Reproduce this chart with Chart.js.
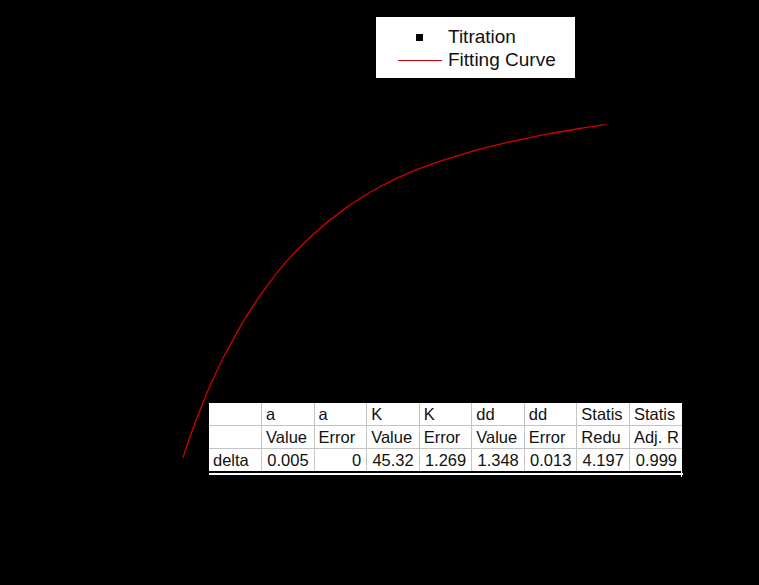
<!DOCTYPE html>
<html>
<head>
<meta charset="utf-8">
<script src="https://cdn.jsdelivr.net/npm/chart.js@4"></script>
<style>
  html, body { margin: 0; padding: 0; background: #000; }
  #wrap { position: relative; width: 759px; height: 585px; background: #000; overflow: hidden; }
  #chart { position: absolute; left: 0; top: 0; }
  #legend {
    position: absolute; left: 376px; top: 17px; width: 199px; height: 61px;
    background: #fff; font-family: "Liberation Sans", Arial, sans-serif; font-size: 19px; color: #111;
  }
  #legend .row { position: absolute; left: 0; height: 22px; line-height: 22px; }
  #legend .mark { position: absolute; }
  #legend .txt { position: absolute; left: 72px; white-space: nowrap; }
  #fitTable {
    position: absolute; left: 209px; top: 403px; width: 473px;
    border-collapse: collapse; background: #fff; table-layout: fixed;
    font-family: "Liberation Sans", Arial, sans-serif; font-size: 16.5px; color: #111;
  }
  #fitTable td {
    border: 1px solid #c4c4c4; padding: 0 4px; height: 22px; line-height: 22px;
    white-space: nowrap; overflow: hidden; text-align: left;
  }
  #fitTable tr:first-child td { border-top: none; }
  #fitTable tr:last-child td { border-bottom: none; }
  #fitTable td:first-child { border-left: none; }
  #fitTable td:last-child { border-right: none; }
  #fitTable td.num { text-align: right; padding-right: 5px; }
  #tableRule { position: absolute; left: 209px; top: 473px; width: 474px; height: 2px; background: #fff; }
  #tableTick { position: absolute; left: 681px; top: 471px; width: 1px; height: 6px; background: #fff; }
</style>
</head>
<body>
<div id="wrap">
  <canvas id="chart" width="759" height="585"></canvas>
  <div id="legend"></div>
  <table id="fitTable"></table>
  <div id="tableRule"></div>
  <div id="tableTick"></div>
</div>
<script>
// fitted curve (x: titrant conc, y: shift)
const titrantConc = [0, 0.00157, 0.00320, 0.00516, 0.00778, 0.01104, 0.01367, 0.01594, 0.02033,
  0.02555, 0.03210, 0.03863, 0.04516, 0.05171, 0.05824, 0.06476, 0.07131, 0.07784, 0.08275];
const deltaFit = [0.011, 0.085, 0.155, 0.232, 0.322, 0.419, 0.488, 0.541, 0.631,
  0.716, 0.801, 0.866, 0.916, 0.953, 0.985, 1.010, 1.032, 1.050, 1.062];

// legend entries
const legendLabels = ['Titration', 'Fitting Curve'];

// fit parameter table
const tableHead1 = ['', 'a', 'a', 'K', 'K', 'dd', 'dd', 'Statis', 'Statis'];
const tableHead2 = ['', 'Value', 'Error', 'Value', 'Error', 'Value', 'Error', 'Redu', 'Adj. R'];
const rowLabels = ['delta'];
const rowValues = [['0.005', '0', '45.32', '1.269', '1.348', '0.013', '4.197', '0.999']];

const curveColor = '#d40000';

// build the table
const table = document.getElementById('fitTable');
function addRow(cells, numeric) {
  const tr = document.createElement('tr');
  cells.forEach((c, i) => {
    const td = document.createElement('td');
    td.textContent = c;
    if (numeric && i > 0) td.className = 'num';
    tr.appendChild(td);
  });
  table.appendChild(tr);
}
addRow(tableHead1, false);
addRow(tableHead2, false);
rowLabels.forEach((lab, i) => addRow([lab].concat(rowValues[i]), true));

// legend box
const legend = document.getElementById('legend');
legendLabels.forEach((lab, i) => {
  const row = document.createElement('div');
  row.className = 'row';
  row.style.top = (9 + i * 23) + 'px';
  row.style.width = '199px';
  const mark = document.createElement('div');
  mark.className = 'mark';
  if (i === 0) {
    mark.style.cssText = 'left:40px;top:8px;width:7px;height:7px;background:#000;';
  } else {
    mark.style.cssText = 'left:22px;top:11px;width:44px;height:1px;background:#c00000;';
  }
  const txt = document.createElement('div');
  txt.className = 'txt';
  txt.textContent = lab;
  row.appendChild(mark);
  row.appendChild(txt);
  legend.appendChild(row);
});

const ctx = document.getElementById('chart').getContext('2d');
new Chart(ctx, {
  type: 'scatter',
  data: {
    datasets: [{
      label: legendLabels[1],
      data: titrantConc.map((x, i) => ({ x: x, y: deltaFit[i] })),
      showLine: true,
      borderColor: curveColor,
      borderWidth: 1.3,
      pointRadius: 0,
      cubicInterpolationMode: 'monotone',
      fill: false,
      clip: false
    }]
  },
  options: {
    responsive: false,
    animation: false,
    layout: { padding: { left: 183, right: 66, top: 81, bottom: 124 } },
    scales: {
      x: { type: 'linear', min: 0, max: 0.1, display: false },
      y: { type: 'linear', min: 0, max: 1.2, display: false }
    },
    plugins: {
      legend: { display: false },
      tooltip: { enabled: false }
    }
  }
});
</script>
</body>
</html>
